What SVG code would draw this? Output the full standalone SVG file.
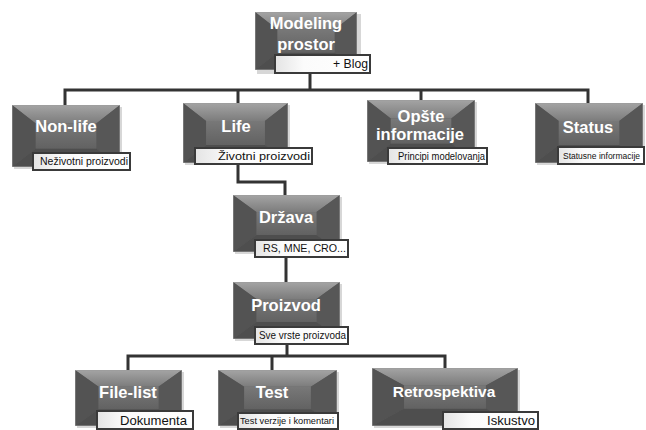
<svg xmlns="http://www.w3.org/2000/svg" xmlns:xlink="http://www.w3.org/1999/xlink" width="646" height="430" viewBox="0 0 646 430">
<style>
.conn{fill:none;stroke:#333;stroke-width:3;stroke-linejoin:miter}
.t{font-family:"Liberation Sans",Arial,sans-serif;font-weight:bold;font-size:16.5px;fill:#fff;text-anchor:middle}
.l{font-family:"Liberation Sans",Arial,sans-serif;font-size:10.5px;fill:#111}
.lab{fill:url(#gLab);stroke:#3a3a3a;stroke-width:2}
.sh{fill:#bdbdbd;opacity:0.6}
</style>
<defs>
<linearGradient id="gTop" x1="0" y1="0" x2="0" y2="1"><stop offset="0" stop-color="#a4a4a4"/><stop offset="1" stop-color="#7c7c7c"/></linearGradient>
<linearGradient id="gMid" x1="0" y1="0" x2="0" y2="1"><stop offset="0" stop-color="#787878"/><stop offset="1" stop-color="#626262"/></linearGradient>
<linearGradient id="gLab" x1="0" y1="0" x2="1" y2="0"><stop offset="0" stop-color="#e4e4e4"/><stop offset="0.3" stop-color="#fbfbfb"/><stop offset="1" stop-color="#ffffff"/></linearGradient>
<symbol id="box" viewBox="0 0 100 60" preserveAspectRatio="none">
<rect x="0" y="0" width="100" height="60" fill="#606060"/>
<polygon points="0,0 100,0 78,18 22,18" fill="url(#gTop)"/>
<polygon points="0,0 22,18 22,42 0,60" fill="#535353"/>
<polygon points="100,0 78,18 78,42 100,60" fill="#575757"/>
<polygon points="0,60 22,42 78,42 100,60" fill="#4e4e4e"/>
<rect x="22" y="18" width="56" height="24" fill="url(#gMid)"/>
<rect x="0" y="0" width="100" height="60" fill="none" stroke="#9a9a9a" stroke-width="1" vector-effect="non-scaling-stroke"/>
</symbol>
</defs>
<rect width="646" height="430" fill="#fff"/>
<g id="connectors">
<path class="conn" d="M310 73 V90"/>
<path class="conn" d="M65 105 V90 H588 V103"/>
<path class="conn" d="M238 90 V103"/>
<path class="conn" d="M421 90 V100"/>
<path class="conn" d="M238 164 V182 H285 V195"/>
<path class="conn" d="M286 257 V282"/>
<path class="conn" d="M287 344 V356"/>
<path class="conn" d="M128 370 V356 H445 V368"/>
<path class="conn" d="M272 356 V370"/>
</g>
<g id="n-modeling">
<rect class="sh" x="257" y="14" width="104" height="60"/>
<use xlink:href="#box" x="255" y="12" width="102" height="58"/>
<text class="t" x="306" y="29">Modeling</text>
<text class="t" x="306" y="50">prostor</text>
<rect class="lab" x="275" y="55" width="95" height="18"/>
<text class="l" x="333" y="68" style="font-size:12px" textLength="35" lengthAdjust="spacingAndGlyphs">+ Blog</text>
</g>
<g id="n-nonlife">
<rect class="sh" x="14" y="107" width="108" height="62"/>
<use xlink:href="#box" x="12" y="105" width="108" height="62"/>
<text class="t" x="66" y="132">Non-life</text>
<rect class="lab" x="33" y="153" width="97" height="17"/>
<text class="l" x="40" y="165" textLength="88" lengthAdjust="spacingAndGlyphs">Neživotni proizvodi</text>
</g>
<g id="n-life">
<rect class="sh" x="185" y="105" width="105" height="60"/>
<use xlink:href="#box" x="183" y="103" width="105" height="60"/>
<text class="t" x="236" y="132">Life</text>
<rect class="lab" x="195" y="148" width="117" height="16"/>
<text class="l" x="218" y="160" style="font-size:11.5px" textLength="92" lengthAdjust="spacingAndGlyphs">Životni proizvodi</text>
</g>
<g id="n-opste">
<rect class="sh" x="369" y="102" width="108" height="62"/>
<use xlink:href="#box" x="367" y="100" width="108" height="62"/>
<text class="t" x="421" y="122">Opšte</text>
<text class="t" x="420" y="140">informacije</text>
<rect class="lab" x="388" y="148" width="99" height="16"/>
<text class="l" x="398" y="160" style="font-size:10px" textLength="87" lengthAdjust="spacingAndGlyphs">Principi modelovanja</text>
</g>
<g id="n-status">
<rect class="sh" x="537" y="105" width="108" height="60"/>
<use xlink:href="#box" x="535" y="103" width="108" height="60"/>
<text class="t" x="588" y="133">Status</text>
<rect class="lab" x="558" y="147" width="86" height="17"/>
<text class="l" x="563" y="159" style="font-size:8.5px">Statusne informacije</text>
</g>
<g id="n-drzava">
<rect class="sh" x="235" y="197" width="107" height="57"/>
<use xlink:href="#box" x="233" y="195" width="107" height="57"/>
<text class="t" x="286" y="223">Država</text>
<rect class="lab" x="255" y="240" width="93" height="17"/>
<text class="l" x="263" y="252" style="font-size:11px" textLength="83" lengthAdjust="spacingAndGlyphs">RS, MNE, CRO...</text>
</g>
<g id="n-proizvod">
<rect class="sh" x="235" y="284" width="107" height="57"/>
<use xlink:href="#box" x="233" y="282" width="107" height="57"/>
<text class="t" x="286" y="311">Proizvod</text>
<rect class="lab" x="255" y="327" width="93" height="17"/>
<text class="l" x="259" y="339" textLength="87" lengthAdjust="spacingAndGlyphs">Sve vrste proizvoda</text>
</g>
<g id="n-filelist">
<rect class="sh" x="77" y="372" width="107" height="56"/>
<use xlink:href="#box" x="75" y="370" width="107" height="56"/>
<text class="t" x="128" y="398">File-list</text>
<rect class="lab" x="97" y="411" width="96" height="18"/>
<text class="l" x="120" y="425" style="font-size:13px" textLength="67" lengthAdjust="spacingAndGlyphs">Dokumenta</text>
</g>
<g id="n-test">
<rect class="sh" x="220" y="372" width="119" height="56"/>
<use xlink:href="#box" x="218" y="370" width="119" height="56"/>
<text class="t" x="272" y="398">Test</text>
<rect class="lab" x="238" y="413" width="100" height="16"/>
<text class="l" x="240" y="424" style="font-size:9.5px" textLength="94" lengthAdjust="spacingAndGlyphs">Test verzije i komentari</text>
</g>
<g id="n-retro">
<rect class="sh" x="374" y="370" width="146" height="58"/>
<use xlink:href="#box" x="372" y="368" width="146" height="58"/>
<text class="t" x="444" y="397" style="font-size:15.5px">Retrospektiva</text>
<rect class="lab" x="443" y="412" width="95" height="17"/>
<text class="l" x="487" y="425" style="font-size:13px" textLength="48" lengthAdjust="spacingAndGlyphs">Iskustvo</text>
</g>
</svg>
